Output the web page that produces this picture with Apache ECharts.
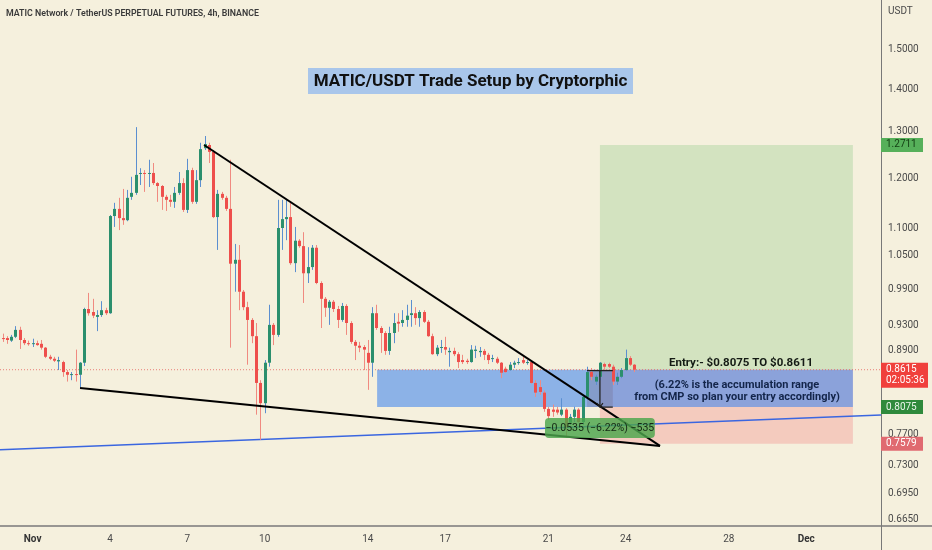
<!DOCTYPE html>
<html><head><meta charset="utf-8">
<script src="https://cdn.jsdelivr.net/npm/echarts@6/dist/echarts.min.js"></script>
<style>html,body{margin:0;padding:0;background:#f5f0dd;}#c{width:932px;height:550px;}</style>
</head><body><div id="c"></div>
<script>
// ---- data (times in days from Nov 1 00:00, 4h candles) ----
const firstCandleDay = -7 / 6;   // Oct 30 20:00
const candleStepDays = 1 / 6;    // 4 hours
// [open, close, low, high]
const ohlc = [
[0.910,0.909,0.904,0.917],[0.910,0.907,0.901,0.913],[0.906,0.912,0.904,0.915],[0.912,0.923,0.910,0.929],
[0.923,0.907,0.893,0.928],[0.907,0.902,0.899,0.910],[0.902,0.901,0.898,0.906],[0.901,0.902,0.896,0.909],
[0.902,0.899,0.898,0.906],[0.901,0.895,0.892,0.907],[0.895,0.881,0.879,0.896],[0.881,0.878,0.876,0.884],
[0.878,0.875,0.873,0.881],[0.874,0.876,0.861,0.881],[0.873,0.858,0.851,0.875],[0.858,0.854,0.844,0.861],
[0.854,0.855,0.846,0.858],[0.855,0.854,0.844,0.892],[0.854,0.872,0.835,0.873],[0.872,0.957,0.867,0.959],
[0.957,0.950,0.946,0.984],[0.952,0.946,0.942,0.974],[0.944,0.947,0.921,0.955],[0.947,0.955,0.944,0.970],
[0.955,0.950,0.947,0.959],[0.950,1.124,0.949,1.126],[1.124,1.138,1.103,1.150],[1.138,1.120,1.097,1.160],
[1.120,1.116,1.107,1.178],[1.116,1.160,1.114,1.176],[1.162,1.170,1.156,1.203],[1.170,1.207,1.166,1.311],
[1.209,1.211,1.186,1.221],[1.211,1.209,1.172,1.217],[1.209,1.211,1.182,1.239],[1.211,1.190,1.186,1.232],
[1.190,1.184,1.152,1.192],[1.184,1.162,1.136,1.186],[1.162,1.156,1.134,1.166],[1.156,1.152,1.142,1.166],
[1.152,1.170,1.140,1.182],[1.170,1.190,1.166,1.213],[1.190,1.136,1.132,1.200],[1.136,1.217,1.130,1.241],
[1.217,1.152,1.148,1.222],[1.152,1.196,1.148,1.217],[1.196,1.262,1.182,1.276],[1.264,1.273,1.260,1.291],
[1.271,1.256,1.232,1.276],[1.256,1.122,1.120,1.260],[1.122,1.168,1.060,1.176],[1.168,1.160,1.156,1.172],
[1.160,1.138,1.134,1.164],[1.138,1.035,0.895,1.239],[1.035,1.042,0.986,1.071],[1.042,0.986,0.955,1.069],
[0.986,0.960,0.955,0.989],[0.960,0.939,0.869,0.969],[0.939,0.913,0.902,0.942],[0.913,0.842,0.797,0.934],
[0.842,0.813,0.763,0.846],[0.813,0.872,0.799,0.876],[0.872,0.931,0.866,0.964],[0.931,0.915,0.899,0.934],
[0.915,1.101,0.912,1.156],[1.101,1.118,1.060,1.156],[1.118,1.122,1.078,1.156],[1.122,1.036,1.033,1.152],
[1.036,1.077,1.020,1.103],[1.077,1.067,1.064,1.080],[1.067,1.018,0.967,1.093],[1.018,1.029,1.001,1.065],
[1.029,1.064,1.024,1.069],[1.064,1.001,0.999,1.069],[1.001,0.974,0.926,1.004],[0.974,0.959,0.944,0.977],
[0.959,0.969,0.931,0.972],[0.969,0.957,0.952,0.972],[0.957,0.939,0.926,0.962],[0.939,0.962,0.936,0.967],
[0.962,0.934,0.915,0.965],[0.934,0.904,0.901,0.937],[0.904,0.898,0.876,0.907],[0.898,0.895,0.888,0.904],
[0.896,0.892,0.861,0.899],[0.887,0.872,0.832,0.907],[0.872,0.950,0.851,0.960],[0.950,0.926,0.923,0.964],
[0.926,0.918,0.887,0.929],[0.918,0.890,0.884,0.921],[0.890,0.918,0.884,0.928],[0.918,0.934,0.902,0.950],
[0.936,0.933,0.920,0.950],[0.934,0.939,0.928,0.955],[0.939,0.946,0.928,0.964],[0.947,0.950,0.928,0.972],
[0.950,0.942,0.931,0.960],[0.942,0.952,0.928,0.955],[0.952,0.936,0.934,0.955],[0.936,0.913,0.912,0.939],
[0.913,0.885,0.884,0.917],[0.885,0.895,0.882,0.899],[0.895,0.896,0.887,0.907],[0.896,0.892,0.884,0.912],
[0.888,0.890,0.866,0.895],[0.890,0.885,0.882,0.895],[0.885,0.873,0.864,0.888],[0.876,0.873,0.870,0.884],
[0.875,0.873,0.870,0.878],[0.873,0.892,0.872,0.899],[0.890,0.892,0.879,0.898],[0.888,0.890,0.881,0.896],
[0.890,0.884,0.876,0.893],[0.884,0.876,0.870,0.887],[0.878,0.879,0.873,0.884],[0.878,0.872,0.870,0.881],
[0.872,0.857,0.849,0.873],[0.863,0.858,0.857,0.866],[0.861,0.869,0.860,0.873],[0.869,0.872,0.864,0.875],
[0.872,0.873,0.869,0.879],[0.876,0.872,0.870,0.881],[0.872,0.873,0.869,0.876],[0.873,0.842,0.841,0.875],
[0.842,0.828,0.822,0.846],[0.836,0.829,0.825,0.846],[0.828,0.805,0.801,0.831],[0.805,0.795,0.790,0.808],
[0.804,0.801,0.794,0.811],[0.804,0.800,0.797,0.808],[0.797,0.804,0.795,0.820],[0.804,0.780,0.766,0.806],
[0.786,0.794,0.783,0.798],[0.794,0.804,0.787,0.808],[0.804,0.787,0.786,0.806],[0.787,0.822,0.783,0.823],
[0.822,0.858,0.818,0.866],[0.858,0.851,0.846,0.864],[0.844,0.851,0.839,0.854],[0.851,0.872,0.846,0.873],
[0.870,0.866,0.861,0.872],[0.870,0.866,0.864,0.872],[0.866,0.844,0.839,0.869],[0.844,0.851,0.839,0.857],
[0.851,0.861,0.849,0.864],[0.861,0.879,0.860,0.892],[0.879,0.869,0.867,0.882],[0.869,0.8615,0.858,0.870]
];
const priceTicks = [1.5, 1.4, 1.3, 1.2, 1.1, 1.05, 0.99, 0.93, 0.89, 0.77, 0.73, 0.695, 0.665];
const dateTickDays = [0, 3, 6, 9, 13, 16, 20, 23, 27, 30];
const dateTickLabels = ['Nov', '4', '7', '10', '14', '17', '21', '24', '28', 'Dec'];
const viewDays = [-1.264, 32.9];
const viewPrices = [0.65733, 1.63363];

const targetPrice = 1.2711, entryPrice = 0.8615, stopPrice = 0.7579, accumLow = 0.8075;
const positionDays = [22.0, 31.81];
const accumDays = [13.36, 31.81];
const upperTrend = [[6.65, 1.2711], [24.33, 0.7551]];
const lowerTrend = [[1.84, 0.8348], [24.33, 0.7551]];
const blueTrend = [[-1.264, 0.7499], [32.9, 0.7967]];
const measureDays = [21.5, 22.0, 22.5];
const measureBox = [[19.87, 0.7925], [24.13, 0.7656]];

// ---- chart ----
const L = Math.log;
const FONT = 'Roboto, "Liberation Sans", sans-serif';
const candleData = ohlc.map((d, i) => [firstCandleDay + i * candleStepDays, L(d[0]), L(d[1]), L(d[2]), L(d[3])]);
const lnPts = pts => pts.map(p => [p[0], L(p[1])]);
const colors = { upBody: '#2b8f6d', downBody: '#ee4f4c', upWick: '#5b8fd0', downWick: '#f08a80' };

const chart = echarts.init(document.getElementById('c'));
chart.setOption({
  animation: false,
  backgroundColor: '#f5f0dd',
  grid: { left: 0, right: 51, top: 0, bottom: 24 },
  xAxis: {
    type: 'value', min: viewDays[0], max: viewDays[1],
    axisLine: { show: false }, axisTick: { show: false }, splitLine: { show: false },
    axisLabel: {
      customValues: dateTickDays, margin: 8, fontSize: 10, fontFamily: FONT, color: '#4a4a4a',
      formatter: v => { const i = dateTickDays.indexOf(Math.round(v)); const s = dateTickLabels[i]; return (s === 'Nov' || s === 'Dec') ? '{b|' + s + '}' : s; },
      rich: { b: { fontWeight: 'bold', fontSize: 10, fontFamily: FONT, color: '#333' } }
    }
  },
  yAxis: {
    type: 'value', position: 'right', min: L(viewPrices[0]), max: L(viewPrices[1]),
    axisLine: { show: false }, axisTick: { show: false }, splitLine: { show: false },
    axisLabel: {
      customValues: priceTicks.map(L), margin: 7, fontSize: 10, fontFamily: FONT, color: '#4a4a4a',
      formatter: v => Math.exp(v).toFixed(4)
    }
  },
  series: [
    { type: 'line', data: [], z: 1, silent: true,
      markArea: { silent: true, data: [
        [{ xAxis: positionDays[0], yAxis: L(targetPrice), itemStyle: { color: 'rgba(76,175,80,0.2)' } }, { xAxis: positionDays[1], yAxis: L(entryPrice) }],
        [{ xAxis: positionDays[0], yAxis: L(entryPrice), itemStyle: { color: 'rgba(242,54,69,0.2)' } }, { xAxis: positionDays[1], yAxis: L(stopPrice) }]
      ] } },
    { type: 'line', data: [], z: 2, silent: true,
      markArea: { silent: true, data: [
        [{ xAxis: accumDays[0], yAxis: L(entryPrice), itemStyle: { color: 'rgba(60,130,240,0.57)' } }, { xAxis: accumDays[1], yAxis: L(accumLow) }]
      ] } },
    { type: 'line', z: 2, silent: true, symbol: 'none', data: lnPts(blueTrend), lineStyle: { color: '#3a66e0', width: 1.5 } },
    { type: 'line', z: 2, silent: true, symbol: 'none', data: lnPts([[viewDays[0], entryPrice], [viewDays[1], entryPrice]]),
      lineStyle: { color: 'rgba(230,90,85,0.75)', width: 1, type: [1, 2] } },
    { type: 'custom', z: 3, silent: true, clip: true, data: candleData,
      encode: { x: 0, y: [1, 2, 3, 4] },
      renderItem: (params, api) => {
        const t = api.value(0), o = api.value(1), c = api.value(2), l = api.value(3), h = api.value(4);
        const pO = api.coord([t, o]), pC = api.coord([t, c]), pL = api.coord([t, l]), pH = api.coord([t, h]);
        const up = c >= o; const x = Math.round(pO[0]);
        const top = Math.min(pO[1], pC[1]); const bh = Math.max(1, Math.abs(pO[1] - pC[1]));
        return { type: 'group', children: [
          { type: 'line', shape: { x1: x + 0.5, y1: pH[1], x2: x + 0.5, y2: pL[1] }, style: { stroke: up ? colors.upWick : colors.downWick, lineWidth: 1 } },
          { type: 'rect', shape: { x: x - 1, y: top, width: 3, height: bh }, style: { fill: up ? colors.upBody : colors.downBody } }
        ] };
      } },
    { type: 'line', data: [], z: 5, silent: true,
      markArea: { silent: true, data: [
        [{ xAxis: measureDays[0], yAxis: L(entryPrice), itemStyle: { color: 'rgba(110,100,130,0.28)' } }, { xAxis: measureDays[2], yAxis: L(accumLow) }]
      ] } },
    { type: 'line', z: 6, silent: true, symbol: 'none', data: lnPts(upperTrend), lineStyle: { color: '#000', width: 2 } },
    { type: 'line', z: 6, silent: true, symbol: 'none', data: lnPts(lowerTrend), lineStyle: { color: '#000', width: 2 } },
    { type: 'line', z: 6, silent: true, symbol: 'none', connectNulls: false,
      data: [[measureDays[0], L(0.8600)], [measureDays[2], L(0.8600)], '-', [measureDays[1], L(0.8600)], [measureDays[1], L(accumLow)], '-', [measureDays[1], L(accumLow)], [measureDays[2], L(accumLow)]],
      lineStyle: { color: '#222', width: 1.3 } }
  ]
});

const px = (t, p) => chart.convertToPixel({ xAxisIndex: 0, yAxisIndex: 0 }, [t, L(p)]);
const tag = (price, bg, fg, extra) => {
  const y = px(0, price)[1];
  const els = [
    { type: 'rect', shape: { x: 881, y: y - 7, width: extra ? 47 : 42, height: extra ? 25 : 14 }, style: { fill: bg }, z: 20 },
    { type: 'text', x: 886, y: y, style: { text: price.toFixed(4), fill: fg, font: '10px ' + FONT, verticalAlign: 'middle', textVerticalAlign: 'middle' }, z: 21 }
  ];
  if (extra) els.push({ type: 'text', x: 886, y: y + 11, style: { text: extra, fill: fg, font: '10px ' + FONT, verticalAlign: 'middle', textVerticalAlign: 'middle' }, z: 21 });
  return els;
};
const mb0 = px(measureBox[0][0], measureBox[0][1]), mb1 = px(measureBox[1][0], measureBox[1][1]);
const arrow = px(measureDays[1], accumLow);
chart.setOption({
  graphic: [
    { type: 'line', shape: { x1: 0, y1: 526, x2: 932, y2: 526 }, style: { stroke: '#787878', lineWidth: 1.5 }, z: 15 },
    { type: 'line', shape: { x1: 881.5, y1: 0, x2: 881.5, y2: 550 }, style: { stroke: '#787878', lineWidth: 1 }, z: 15 },
    { type: 'text', x: 6, y: 14, style: { text: 'MATIC Network / TetherUS PERPETUAL FUTURES, 4h, BINANCE', fill: '#3a3a3a', font: '600 8.8px ' + FONT, verticalAlign: 'middle', textVerticalAlign: 'middle' }, z: 20 },
    { type: 'text', x: 888, y: 11, style: { text: 'USDT', fill: '#4a4a4a', font: '10px ' + FONT, verticalAlign: 'middle', textVerticalAlign: 'middle' }, z: 20 },
    { type: 'rect', shape: { x: 308, y: 68, width: 325, height: 26 }, style: { fill: '#a9c6ea' }, z: 20 },
    { type: 'text', x: 470.5, y: 81.5, style: { text: 'MATIC/USDT Trade Setup by Cryptorphic', fill: '#111', font: 'bold 17px ' + FONT, align: 'center', textAlign: 'center', verticalAlign: 'middle', textVerticalAlign: 'middle' }, z: 21 },
    { type: 'text', x: 741, y: 363, style: { text: 'Entry:- $0.8075 TO $0.8611', fill: '#141a14', font: 'bold 11.5px ' + FONT, align: 'center', textAlign: 'center', verticalAlign: 'middle', textVerticalAlign: 'middle' }, z: 21 },
    { type: 'text', x: 737, y: 385, style: { text: '(6.22% is the accumulation range', fill: '#13254a', font: 'bold 11px ' + FONT, align: 'center', textAlign: 'center', verticalAlign: 'middle', textVerticalAlign: 'middle' }, z: 21 },
    { type: 'text', x: 737, y: 397, style: { text: 'from CMP so plan your entry accordingly)', fill: '#13254a', font: 'bold 11px ' + FONT, align: 'center', textAlign: 'center', verticalAlign: 'middle', textVerticalAlign: 'middle' }, z: 21 },
    { type: 'rect', shape: { x: mb0[0], y: mb0[1], width: mb1[0] - mb0[0], height: mb1[1] - mb0[1], r: 4 }, style: { fill: 'rgba(76,165,76,0.82)' }, z: 18 },
    { type: 'text', x: (mb0[0] + mb1[0]) / 2, y: (mb0[1] + mb1[1]) / 2, style: { text: '\u22120.0535 (\u22126.22%) \u2212535', fill: '#142814', font: '10.5px ' + FONT, align: 'center', textAlign: 'center', verticalAlign: 'middle', textVerticalAlign: 'middle' }, z: 19 },
    { type: 'polyline', shape: { points: [[arrow[0] - 3, arrow[1] - 4], [arrow[0], arrow[1]], [arrow[0] + 3, arrow[1] - 4]] }, style: { stroke: '#222', lineWidth: 1.2, fill: null }, z: 17 },
    ...tag(targetPrice, '#56b05a', '#123d12'),
    ...tag(entryPrice, '#f0403c', '#ffffff', '02:05:36'),
    ...tag(accumLow, '#2f8a3c', '#e8f5e9'),
    ...tag(stopPrice, '#e06a70', '#ffffff')
  ]
});
</script>
</body></html>
